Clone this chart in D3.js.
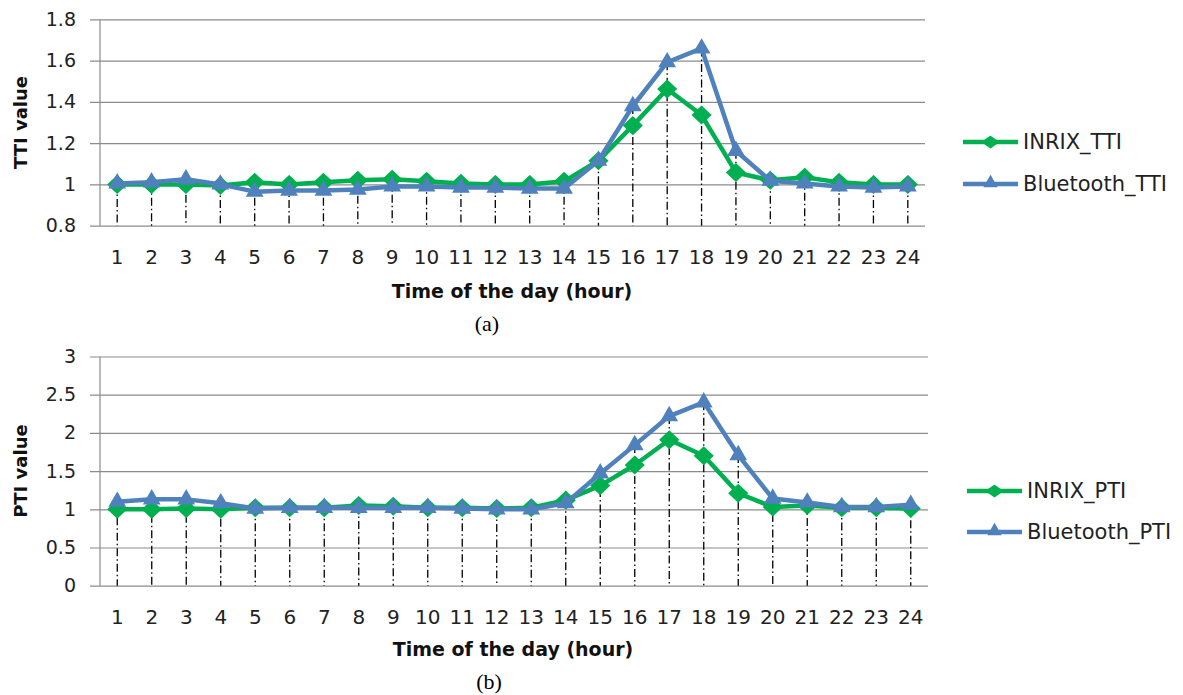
<!DOCTYPE html>
<html>
<head>
<meta charset="utf-8">
<script src="https://cdn.jsdelivr.net/npm/d3@7"></script>
<style>
  html, body { margin: 0; padding: 0; background: #fff; }
  svg { display: block; }
</style>
</head>
<body>
<svg id="chart" width="1183" height="695"></svg>
<script>
// ---- data ----
const hours = ["1","2","3","4","5","6","7","8","9","10","11","12","13","14","15","16","17","18","19","20","21","22","23","24"];

const inrixTTI = [1.00,1.00,1.00,0.995,1.01,1.00,1.01,1.02,1.025,1.015,1.005,1.00,1.00,1.015,1.115,1.285,1.462,1.336,1.058,1.02,1.035,1.01,1.00,1.00];
const bluetoothTTI = [1.005,1.01,1.025,1.00,0.965,0.97,0.97,0.975,0.99,0.99,0.985,0.985,0.98,0.98,1.115,1.38,1.592,1.659,1.163,1.018,1.005,0.99,0.985,0.99];

const inrixPTI = [1.00,1.00,1.01,1.00,1.02,1.02,1.02,1.05,1.04,1.02,1.02,1.01,1.02,1.12,1.31,1.58,1.91,1.70,1.21,1.03,1.05,1.02,1.02,1.01];
const bluetoothPTI = [1.10,1.13,1.13,1.08,1.01,1.02,1.02,1.02,1.02,1.02,1.01,1.00,1.00,1.08,1.47,1.84,2.22,2.40,1.71,1.14,1.09,1.03,1.03,1.06];

const ttiTicks = [0.8, 1, 1.2, 1.4, 1.6, 1.8];
const ptiTicks = [0, 0.5, 1, 1.5, 2, 2.5, 3];

const seriesNamesTTI = ["INRIX_TTI", "Bluetooth_TTI"];
const seriesNamesPTI = ["INRIX_PTI", "Bluetooth_PTI"];

const xTitle = "Time of the day (hour)";

// ---- styles ----
const GREEN = "#00B050";
const BLUE = "#4F81BD";
const GRID = "#8c8c8c";
const FONT = "'DejaVu Sans', 'Liberation Sans', sans-serif";

const svg = d3.select("#chart");

function drawPanel(cfg) {
  const g = svg.append("g");
  const x = d3.scaleBand().domain(hours).range([cfg.left, cfg.right]);
  const y = d3.scaleLinear().domain(cfg.domain).range([cfg.bottom, cfg.top]);
  const cx = d => x(d) + x.bandwidth() / 2;

  // gridlines (with outward ticks)
  const yAxis = d3.axisLeft(y).tickValues(cfg.ticks)
    .tickSize(-(cfg.right - cfg.left)).tickSizeOuter(0)
    .tickFormat(d => d3.format("")(d));
  const ya = g.append("g").attr("transform", `translate(${cfg.left},0)`).call(yAxis);
  ya.select(".domain").remove();
  ya.selectAll(".tick line").attr("stroke", GRID).attr("stroke-width", 1.2)
    .attr("x1", -10);
  ya.selectAll(".tick text").attr("x", -24).attr("font-family", FONT)
    .attr("font-size", 19).attr("fill", "#222");

  // left axis line
  g.append("line").attr("x1", cfg.left).attr("x2", cfg.left)
    .attr("y1", cfg.top).attr("y2", cfg.bottom)
    .attr("stroke", GRID).attr("stroke-width", 1.2);

  // x axis labels
  const xAxis = d3.axisBottom(x).tickSize(0).tickSizeOuter(0);
  const xa = g.append("g").attr("transform", `translate(0,${cfg.bottom})`).call(xAxis);
  xa.select(".domain").remove();
  xa.selectAll(".tick text").attr("y", 0).attr("dy", cfg.xLabelOffset)
    .attr("font-family", FONT).attr("font-size", 20).attr("fill", "#222");

  // drop lines
  g.append("g").selectAll("line").data(hours).join("line")
    .attr("x1", d => cx(d)).attr("x2", d => cx(d))
    .attr("y1", (d, i) => y(Math.max(cfg.s1[i], cfg.s2[i])))
    .attr("y2", cfg.bottom)
    .attr("stroke", "#000").attr("stroke-width", 1.3)
    .attr("stroke-dasharray", "8,3,1.5,3");

  const line = d3.line().x((d, i) => cx(hours[i])).y(d => y(d));

  const series = [
    { vals: cfg.s1, color: GREEN, marker: "diamond" },
    { vals: cfg.s2, color: BLUE, marker: "triangle" }
  ];
  series.forEach(s => {
    g.append("path").datum(s.vals).attr("d", line)
      .attr("fill", "none").attr("stroke", s.color).attr("stroke-width", 4.5)
      .attr("stroke-linejoin", "round");
    drawMarkers(g, s.vals.map((v, i) => [cx(hours[i]), y(v)]), s);
  });

  // y title
  g.append("text")
    .attr("transform", `translate(${cfg.yTitleX},${(cfg.top + cfg.bottom) / 2}) rotate(-90)`)
    .attr("text-anchor", "middle").attr("dominant-baseline", "central")
    .attr("font-family", FONT).attr("font-weight", "bold").attr("font-size", 18)
    .attr("fill", "#111").text(cfg.yTitle);

  // x title
  g.append("text").attr("x", cfg.xTitleX).attr("y", cfg.xTitleY)
    .attr("text-anchor", "middle").attr("font-family", FONT)
    .attr("font-weight", "bold").attr("font-size", 19).attr("fill", "#111")
    .text(xTitle);

  // caption
  g.append("text").attr("x", cfg.capX).attr("y", cfg.capY)
    .attr("text-anchor", "middle")
    .attr("font-family", "'Liberation Serif', 'Times New Roman', serif")
    .attr("font-size", 22).attr("fill", "#000").text(cfg.caption);

  // legend
  const lg = g.append("g");
  cfg.names.forEach((name, i) => {
    const s = series[i];
    const ly = cfg.legY[i];
    lg.append("line").attr("x1", cfg.legX).attr("x2", cfg.legX + 55)
      .attr("y1", ly).attr("y2", ly).attr("stroke", s.color).attr("stroke-width", 4.5);
    drawMarkers(lg, [[cfg.legX + 27.5, ly]], s, true);
    lg.append("text").attr("x", cfg.legX + 60).attr("y", ly)
      .attr("dominant-baseline", "central").attr("font-family", FONT)
      .attr("font-size", 21).attr("fill", "#222").text(name);
  });
}

function drawMarkers(g, pts, s, legend) {
  if (s.marker === "diamond") {
    const hw = legend ? 8 : 9, hh = legend ? 5.5 : 8.5;
    g.append("g").selectAll("path").data(pts).join("path")
      .attr("d", d => `M${d[0]},${d[1] - hh}L${d[0] + hw},${d[1]}L${d[0]},${d[1] + hh}L${d[0] - hw},${d[1]}Z`)
      .attr("fill", s.color).attr("stroke", s.color).attr("stroke-width", 1.5);
  } else {
    const tri = d3.symbol().type(d3.symbolTriangle).size(legend ? 60 : 100);
    g.append("g").selectAll("path").data(pts).join("path")
      .attr("transform", d => `translate(${d[0]},${d[1] + (legend ? -1 : 0)})`)
      .attr("d", tri())
      .attr("fill", s.color).attr("stroke", s.color).attr("stroke-width", 1.5);
  }
}

drawPanel({
  left: 100, right: 925, top: 19.3, bottom: 225.7,
  domain: [0.8, 1.8], ticks: ttiTicks,
  s1: inrixTTI, s2: bluetoothTTI, names: seriesNamesTTI,
  yTitle: "TTI value", yTitleX: 20,
  xLabelOffset: 38, xTitleX: 512, xTitleY: 298,
  caption: "(a)", capX: 487, capY: 331,
  legX: 963, legY: [142, 184]
});

drawPanel({
  left: 100, right: 928, top: 356.5, bottom: 585.7,
  domain: [0, 3], ticks: ptiTicks,
  s1: inrixPTI, s2: bluetoothPTI, names: seriesNamesPTI,
  yTitle: "PTI value", yTitleX: 20,
  xLabelOffset: 38, xTitleX: 513, xTitleY: 656,
  caption: "(b)", capX: 489, capY: 689,
  legX: 967, legY: [491, 532]
});
</script>
</body>
</html>
